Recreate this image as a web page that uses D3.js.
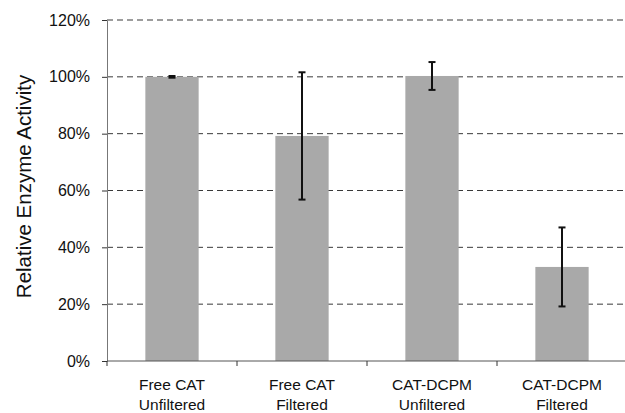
<!DOCTYPE html>
<html>
<head>
<meta charset="utf-8">
<script src="https://cdn.jsdelivr.net/npm/d3@7"></script>
<style>
  html, body { margin: 0; padding: 0; background: #fff; }
  svg { display: block; font-family: "Liberation Sans", Arial, sans-serif; }
</style>
</head>
<body>
<svg id="chart" width="625" height="413"></svg>
<script>
// Sample groups (two-line labels)
const categories = ["Free CAT|Unfiltered", "Free CAT|Filtered", "CAT-DCPM|Unfiltered", "CAT-DCPM|Filtered"];
// Mean relative activity (%) and standard deviation (%)
const activity = [100, 79.2, 100.3, 33.1];
const stdev = [0.3, 22.4, 4.9, 13.9];
const yTicks = [0, 20, 40, 60, 80, 100, 120];

const svg = d3.select("#chart");
const margin = { top: 20, bottom: 52, left: 107 };
const W = 625, H = 413;
const innerW = 520, innerH = H - margin.top - margin.bottom;

const g = svg.append("g").attr("transform", `translate(${margin.left},${margin.top})`);

const x = d3.scaleBand().domain(categories).range([0, innerW]).paddingInner(0.59).paddingOuter(0.295);
const y = d3.scaleLinear().domain([0, 120]).range([innerH, 0]);

// Horizontal dashed grid lines
g.append("g").selectAll("line").data(yTicks.filter(d => d > 0)).join("line")
  .attr("x1", 0).attr("x2", W - margin.left)
  .attr("y1", d => y(d)).attr("y2", d => y(d))
  .attr("stroke", "#3a3a3a").attr("stroke-width", 1)
  .attr("stroke-dasharray", "6,4");

// Bars
g.append("g").selectAll("rect").data(categories).join("rect")
  .attr("x", d => x(d))
  .attr("width", x.bandwidth())
  .attr("y", (d, i) => y(activity[i]))
  .attr("height", (d, i) => innerH - y(activity[i]))
  .attr("fill", "#a9a9a9");

// Error bars
const eb = g.append("g").attr("stroke", "#111").attr("stroke-width", 2);
categories.forEach((c, i) => {
  const cx = x(c) + x.bandwidth() / 2;
  const hi = y(activity[i] + stdev[i]), lo = y(activity[i] - stdev[i]);
  eb.append("line").attr("x1", cx).attr("x2", cx).attr("y1", hi).attr("y2", lo);
  eb.append("line").attr("x1", cx - 3.5).attr("x2", cx + 3.5).attr("y1", hi).attr("y2", hi);
  eb.append("line").attr("x1", cx - 3.5).attr("x2", cx + 3.5).attr("y1", lo).attr("y2", lo);
});

// Y axis
const yAxis = g.append("g")
  .call(d3.axisLeft(y).tickValues(yTicks).tickFormat(d => d + "%").tickSize(5).tickSizeOuter(0));
yAxis.select(".domain").attr("stroke", "#777");
yAxis.selectAll(".tick line").attr("stroke", "#333");
yAxis.selectAll(".tick text").attr("font-size", 16).attr("fill", "#111").attr("x", -17)
  .attr("font-family", "Liberation Sans, Arial, sans-serif");

// X axis with ticks at band boundaries
const xg = g.append("g").attr("transform", `translate(0,${innerH})`);
xg.append("line").attr("x1", 0).attr("x2", W - margin.left).attr("y1", 0).attr("y2", 0).attr("stroke", "#555");
const step = x.step();
xg.selectAll(".bt").data(d3.range(0, 5)).join("line")
  .attr("x1", i => i * step).attr("x2", i => i * step)
  .attr("y1", 0).attr("y2", 5).attr("stroke", "#333");
const lbl = xg.selectAll(".cl").data(categories).join("text")
  .attr("text-anchor", "middle")
  .attr("font-size", 15.5).attr("fill", "#111")
  .attr("transform", d => `translate(${x(d) + x.bandwidth() / 2},0)`);
lbl.each(function (d) {
  const parts = d.split("|");
  d3.select(this).selectAll("tspan").data(parts).join("tspan")
    .attr("x", 0).attr("y", (p, j) => 29 + j * 20).text(p => p);
});

// Y axis title
svg.append("text")
  .attr("transform", `translate(31,${margin.top + innerH / 2 - 4}) rotate(-90)`)
  .attr("text-anchor", "middle")
  .attr("font-size", 20.5).attr("fill", "#111")
  .text("Relative Enzyme Activity");
</script>
</body>
</html>
